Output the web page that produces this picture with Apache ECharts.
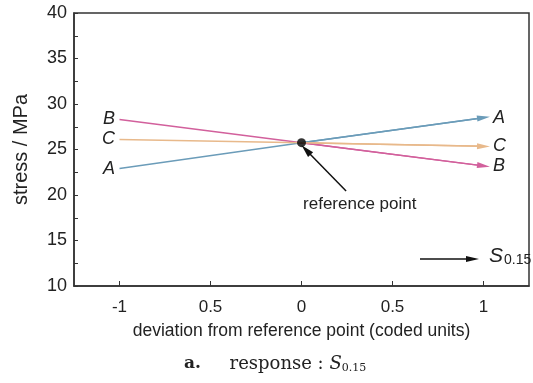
<!DOCTYPE html>
<html>
<head>
<meta charset="utf-8">
<script src="https://cdn.jsdelivr.net/npm/echarts@6/dist/echarts.min.js"></script>
<style>html,body{margin:0;padding:0;background:#fff}#c{width:533px;height:383px}</style>
</head>
<body>
<div id="c"></div>
<script>
// ---- data ----
const xValues = [-1, 0, 1];
const seriesNames = ['A', 'B', 'C'];
const seriesA = [22.9, 25.75, 28.5];
const seriesB = [28.3, 25.75, 23.2];
const seriesC = [26.1, 25.75, 25.35];
const refPoint = [0, 25.75];
const xTickValues = [-1, -0.5, 0, 0.5, 1];
const xTickLabels = ['-1', '0.5', '0', '0.5', '1'];
const yTicks = [10, 15, 20, 25, 30, 35, 40];
// annotation arrow (text -> reference point), in data units
const refArrowFrom = [0.245, 20.45];
const refArrowTo = [0.025, 24.95];
const refLabelPos = [0.32, 19.0];

const colors = { A: '#6b9cb9', B: '#d2609c', C: '#e8b98b' };
const FONT = 'Liberation Sans, Arial, sans-serif';
const arrowPath = 'path://M5,0L10,20L0,20Z';

function makeSeries(name, vals) {
  const n = xValues.length;
  const data = xValues.map((x, i) => [x, vals[i]]);
  const lbl = { fontFamily: FONT, fontStyle: 'italic', fontSize: 18, color: '#222', formatter: name };
  return {
    type: 'line', name: name, data: data, symbol: 'none', silent: true,
    lineStyle: { color: colors[name], width: 1.5 },
    itemStyle: { color: colors[name] },
    markLine: {
      silent: true, animation: false,
      symbol: ['none', arrowPath],
      label: { show: false },
      lineStyle: { color: colors[name], width: 1.5, type: 'solid' },
      data: [[
        { coord: [xValues[n - 2], vals[n - 2]], symbol: 'none' },
        { coord: [xValues[n - 1], vals[n - 1]], symbol: arrowPath, symbolSize: [6, 13] }
      ]]
    },
    markPoint: {
      silent: true, animation: false, symbol: 'circle', symbolSize: 1,
      itemStyle: { color: 'rgba(0,0,0,0)' },
      data: [
        { coord: [xValues[0], vals[0]], label: Object.assign({ show: true, position: 'left', distance: 4 }, lbl) },
        { coord: [xValues[n - 1], vals[n - 1]], label: Object.assign({ show: true, position: 'right', distance: 9 }, lbl) }
      ]
    },
    z: 3
  };
}

const chart = echarts.init(document.getElementById('c'), null, { renderer: 'canvas' });
chart.setOption({
  animation: false,
  grid: { left: 74, top: 13, right: 4, bottom: 97, show: true, borderColor: '#333', borderWidth: 1.5, backgroundColor: 'transparent' },
  xAxis: {
    type: 'value', min: -1.25, max: 1.25,
    name: 'deviation from reference point (coded units)',
    nameLocation: 'middle', nameGap: 36,
    nameTextStyle: { fontFamily: FONT, fontSize: 17.5, color: '#222' },
    axisLine: { show: true, onZero: false, lineStyle: { color: '#333', width: 1.5 } },
    axisTick: { show: true, inside: true, length: 5, customValues: xTickValues, lineStyle: { color: '#333' } },
    axisLabel: {
      customValues: xTickValues, fontFamily: FONT, fontSize: 17, color: '#222', margin: 13,
      formatter: v => { const i = xTickValues.indexOf(v); return i >= 0 ? xTickLabels[i] : ''; }
    },
    splitLine: { show: false }
  },
  yAxis: {
    type: 'value', min: 10, max: 40, interval: 5,
    name: 'stress / MPa', nameLocation: 'middle', nameGap: 43,
    nameTextStyle: { fontFamily: FONT, fontSize: 20, color: '#222' },
    axisLine: { show: true, onZero: false, lineStyle: { color: '#333', width: 1.5 } },
    axisTick: { show: true, inside: true, length: 4, lineStyle: { color: '#333' } },
    minorTick: { show: true, splitNumber: 2, length: 4, lineStyle: { color: '#333' } },
    axisLabel: { fontFamily: FONT, fontSize: 18, color: '#222', margin: 7 },
    splitLine: { show: false }
  },
  series: [
    makeSeries('A', seriesA),
    makeSeries('B', seriesB),
    makeSeries('C', seriesC),
    {
      type: 'scatter', data: [refPoint], symbol: 'circle', symbolSize: 9,
      itemStyle: { color: '#000' }, z: 5, silent: true,
      markLine: {
        silent: true, animation: false,
        label: { show: false },
        lineStyle: { color: '#111', width: 1.5, type: 'solid' },
        data: [[
          { coord: refArrowFrom, symbol: 'none' },
          { coord: refArrowTo, symbol: arrowPath, symbolSize: [7, 13] }
        ]]
      },
      markPoint: {
        silent: true, symbol: 'circle', symbolSize: 1,
        itemStyle: { color: 'transparent' },
        label: { show: true, formatter: 'reference point', fontFamily: FONT, fontSize: 17, color: '#222' },
        data: [{ coord: refLabelPos }]
      }
    }
  ],
  graphic: [
    { type: 'line', shape: { x1: 420, y1: 259, x2: 470, y2: 259 }, style: { stroke: '#111', lineWidth: 1.5 } },
    { type: 'polygon', shape: { points: [[479, 259], [466, 256], [466, 262]] }, style: { fill: '#111' } },
    {
      type: 'text', left: 489, top: 246,
      style: {
        text: '{s|S}{sub|0.15}',
        rich: {
          s: { fontFamily: FONT, fontStyle: 'italic', fontSize: 21, fill: '#222', verticalAlign: 'bottom' },
          sub: { fontFamily: FONT, fontSize: 14, fill: '#222', padding: [9, 0, 0, 1], verticalAlign: 'bottom' }
        }
      }
    },
    {
      type: 'text', left: 184, top: 355,
      style: {
        text: '{b|a.}{r|     response : }{s|S}{sub|0.15}',
        rich: {
          b: { fontFamily: 'DejaVu Serif, serif', fontWeight: 'bold', fontSize: 17, fill: '#222' },
          r: { fontFamily: 'DejaVu Serif, serif', fontSize: 18, fill: '#222' },
          s: { fontFamily: 'DejaVu Serif, serif', fontStyle: 'italic', fontSize: 18, fill: '#222' },
          sub: { fontFamily: 'DejaVu Serif, serif', fontSize: 11, fill: '#222', padding: [9, 0, 0, 0] }
        }
      }
    }
  ]
});
</script>
</body>
</html>
